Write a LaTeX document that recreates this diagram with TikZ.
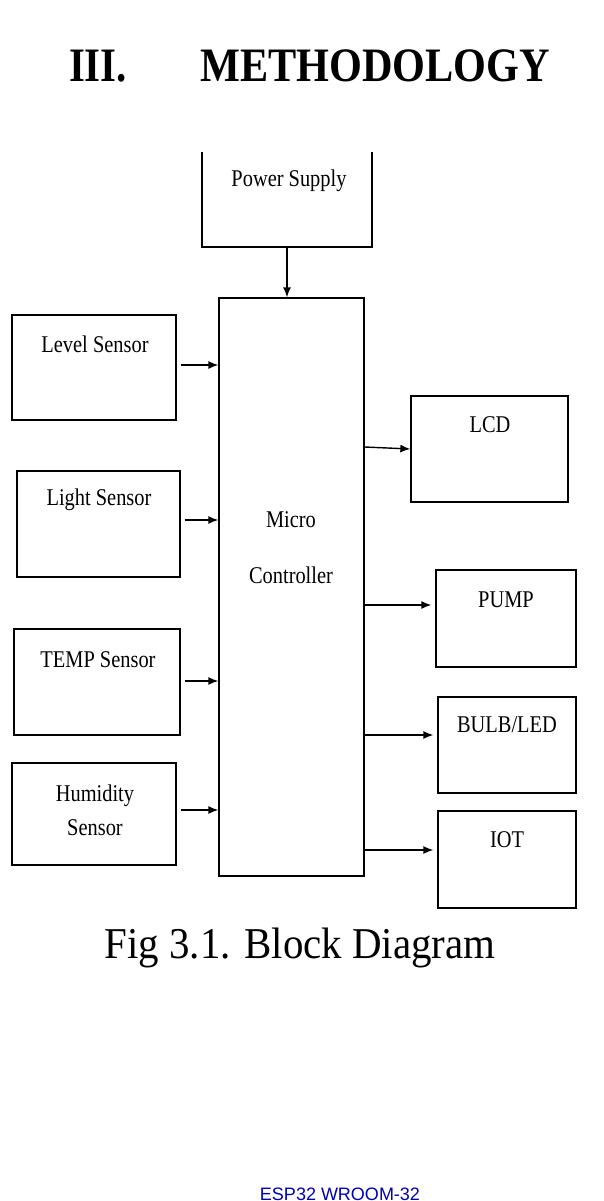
\documentclass[tikz,border=0pt]{standalone}
\usepackage{fontspec}
\setmainfont{Liberation Serif}
\setsansfont{Liberation Sans}
\usetikzlibrary{arrows.meta,positioning}
\newcommand{\sq}[2]{\scalebox{0.85}[1]{\fontsize{#1}{#1}\selectfont #2}}
\tikzset{
  blk/.style={draw, line width=1.3pt, inner sep=0pt},
  lbl/.style={inner sep=0pt, anchor=center},
  arr/.style={line width=1.4pt, -{Latex[length=10pt,width=8pt]}}
}
\begin{document}
\begin{tikzpicture}[x=1pt,y=-1pt]
  \useasboundingbox (0,0) rectangle (604,1201);
  \clip (0,0) rectangle (604,1201);
  % heading
  \node[lbl] (sec) at (98,66) {\sq{48}{\bfseries III.}};
  \node[lbl] (title) at (375,66) {\scalebox{0.88}[1]{\fontsize{48}{48}\selectfont\bfseries METHODOLOGY}};
  % blocks
  \node[blk, minimum width=170, minimum height=100] (power) at (287,197) {};
  \node[blk, minimum width=145, minimum height=578] (micro) at (291.5,587) {};
  \node[blk, minimum width=164, minimum height=105] (level) at (94,367.5) {};
  \node[blk, minimum width=163, minimum height=106] (light) at (98.5,524) {};
  \node[blk, minimum width=166, minimum height=106] (temp) at (97,682) {};
  \node[blk, minimum width=164, minimum height=102] (humid) at (94,814) {};
  \node[blk, minimum width=157, minimum height=106] (lcd) at (489.5,449) {};
  \node[blk, minimum width=140, minimum height=97] (pump) at (506,618.5) {};
  \node[blk, minimum width=138, minimum height=96] (bulb) at (507,745) {};
  \node[blk, minimum width=138, minimum height=97] (iot) at (507,859.5) {};
  \fill[white] (195,140) rectangle (380,152);
  % texts
  \node[lbl] (tpower) at (289,181) {\sq{24}{Power Supply}};
  \node[lbl] (tlevel) at (95,344) {\sq{24}{Level Sensor}};
  \node[lbl] (tlight) at (99,500) {\sq{24}{Light Sensor}};
  \node[lbl] (ttemp) at (98,660) {\sq{24}{TEMP Sensor}};
  \node[lbl, align=center] (thumid) at (95,810) {\sq{24}{Humidity}\\[12pt]\sq{24}{Sensor}};
  \node[lbl, align=center] (tmicro) at (291,548) {\sq{24}{Micro}\\[38pt]\sq{24}{Controller}};
  \node[lbl] (tlcd) at (490,425) {\sq{24}{LCD}};
  \node[lbl] (tpump) at (506,600) {\sq{24}{PUMP}};
  \node[lbl] (tbulb) at (507,725) {\sq{24}{BULB/LED}};
  \node[lbl] (tiot) at (507,840) {\sq{24}{IOT}};
  % arrows
  \draw[arr] (power.south -| 287,0) -- (micro.north -| 287,0);
  \foreach \s/\y in {level/365, light/520, temp/681, humid/810}
    \draw[arr] ([xshift=4]\s.east |- 0,\y) -- (micro.west |- 0,\y);
  \draw[arr] (micro.east |- 0,447) -- (lcd.west |- 0,449);
  \foreach \t/\y in {pump/605, bulb/735, iot/850}
    \draw[arr] (micro.east |- 0,\y) -- ([xshift=-4]\t.west |- 0,\y);
  % caption
  \node[lbl] (cap) at (300,948) {\scalebox{0.93}[1]{\fontsize{44}{44}\selectfont Fig 3.1. Block Diagram}};
  \node[lbl, anchor=north] (esp) at (340,1188) {\textcolor{blue!70!black}{\sffamily\fontsize{18}{18}\selectfont ESP32 WROOM-32}};
\end{tikzpicture}
\end{document}
